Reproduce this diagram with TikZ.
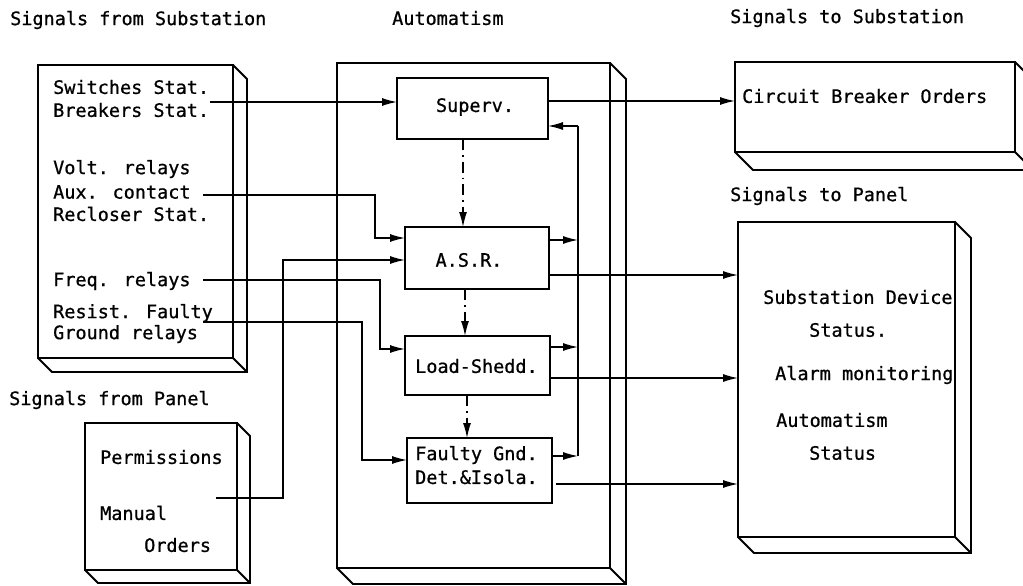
\documentclass[tikz,border=0pt]{standalone}
\usepackage{fontspec}
\newfontfamily\tw[FakeBold=0.8]{DejaVu Sans Mono}
\usetikzlibrary{arrows.meta}
\begin{document}
\begin{tikzpicture}[x=1pt,y=-1pt,
  boxline/.style={line width=1.8pt, line join=miter},
  outerbox/.style={draw, boxline, inner sep=0pt, outer sep=0pt, anchor=north west},
  innerbox/.style={draw, line width=1.5pt, inner sep=0pt, outer sep=0pt, anchor=north west},
  txt/.style={font=\tw\fontsize{18.5}{22}\selectfont, inner sep=0pt, anchor=west},
  conn/.style={line width=1.3pt},
  arr/.style={conn, -{Latex[length=15pt,width=8pt]}},
  ddarr/.style={conn, dash pattern=on 11pt off 5pt on 1.5pt off 5pt, -{Latex[length=15pt,width=8pt]}}
]
\useasboundingbox (0,0) rectangle (1023,586);
\newcommand\boxdepth[2]{%
  \draw[boxline] (#1.north east) -- ++(#2,#2) -- ([shift={(#2,#2)}]#1.south east)
     -- ([shift={(#2,#2)}]#1.south west) -- (#1.south west);
  \draw[boxline] (#1.south east) -- ++(#2,#2);}

% headings
\node[txt] (h1) at (10,20) {Signals from Substation};
\node[txt] (h2) at (392,18) {Automatism};
\node[txt] (h3) at (730,18) {Signals to Substation};
\node[txt] (h4) at (730,196) {Signals to Panel};
\node[txt] (h5) at (9,400) {Signals from Panel};

% outer 3D boxes
\node[outerbox, minimum width=195pt, minimum height=293pt] (src) at (38,65) {};
\boxdepth{src}{14}
\node[outerbox, minimum width=273pt, minimum height=505pt] (aut) at (337,63) {};
\boxdepth{aut}{16}
\node[outerbox, minimum width=280pt, minimum height=90pt] (cbo) at (735,62) {};
\boxdepth{cbo}{18}
\node[outerbox, minimum width=217pt, minimum height=315pt] (pnl) at (738,222) {};
\boxdepth{pnl}{16}
\node[outerbox, minimum width=152pt, minimum height=147pt] (prm) at (85,423) {};
\boxdepth{prm}{13}

% texts in source box
\node[txt] (t1) at (53,87) {Switches Stat.};
\node[txt] (t2) at (53,110) {Breakers Stat.};
\node[txt] (t3) at (53,169) {Volt. relays};
\node[txt] (t4) at (53,192) {Aux. contact};
\node[txt] (t5) at (53,214) {Recloser Stat.};
\node[txt] (t6) at (53,281) {Freq. relays};
\node[txt] (t7) at (53,313) {Resist. Faulty};
\node[txt] (t8) at (53,334) {Ground relays};

% texts in permissions box
\node[txt] (p1) at (100,457) {Permissions};
\node[txt] (p2) at (100,513) {Manual};
\node[txt] (p3) at (144,545) {Orders};

% texts in output boxes
\node[txt] (o1) at (742,96) {Circuit Breaker Orders};
\node[txt] (o2) at (763,297) {Substation Device};
\node[txt] (o3) at (809,330) {Status.};
\node[txt] (o4) at (775,375) {Alarm monitoring};
\node[txt] (o5) at (776,420) {Automatism};
\node[txt] (o6) at (809,453) {Status};

% inner boxes
\node[innerbox, minimum width=151pt, minimum height=61pt] (sup) at (397,78) {};
\node[txt, anchor=center] (supt) at (475,107) {Superv.};
\node[innerbox, minimum width=144pt, minimum height=62pt] (asr) at (405,227) {};
\node[txt, anchor=center] (asrt) at (469,260) {A.S.R.};
\node[innerbox, minimum width=145pt, minimum height=59pt] (ls) at (405,336) {};
\node[txt] (lst) at (415,366) {Load-Shedd.};
\node[innerbox, minimum width=145pt, minimum height=65pt] (fg) at (407,438) {};
\node[txt] (fgt1) at (415,455) {Faulty Gnd.};
\node[txt] (fgt2) at (415,477) {Det.\&Isola.};

% source connector start points
\coordinate (s1) at (210,102);
\coordinate (s2) at (203,195);
\coordinate (s3) at (216,498);
\coordinate (s4) at (203,280);
\coordinate (s5) at (203,322);
\coordinate (bustop) at (578,126);
\coordinate (busbot) at (578,456);

% inputs
\draw[arr] (s1) -- (sup.west |- s1);
\draw[arr] (s2) -- (375,195) -- (375,238) -- (asr.west |- 0,238);
\draw[arr] (s3) -- (283,498) -- (283,260) -- (asr.west |- 0,260);
\draw[arr] (s4) -- (380,280) -- (380,349) -- (ls.west |- 0,349);
\draw[arr] (s5) -- (362,322) -- (362,460) -- (fg.west |- 0,460);

% dash-dot sequence
\draw[ddarr] (463,139) -- (463,227);
\draw[ddarr] (465,289) -- (465,336);
\draw[ddarr] (467,395) -- (467,438);

% feedback bus
\draw[conn] (bustop) -- (busbot);
\draw[arr] (bustop) -- (sup.east |- bustop);
\draw[arr] (asr.east |- 0,240) -- (578,240);
\draw[arr] (ls.east |- 0,347) -- (578,347);
\draw[arr] (fg.east |- busbot) -- (busbot);

% outputs
\draw[arr] (sup.east |- 0,101) -- (cbo.west |- 0,101);
\draw[arr] (asr.east |- 0,275) -- (pnl.west |- 0,275);
\draw[arr] (ls.east |- 0,378) -- (pnl.west |- 0,378);
\draw[arr] (556,484) -- (pnl.west |- 0,484);
\end{tikzpicture}
\end{document}
